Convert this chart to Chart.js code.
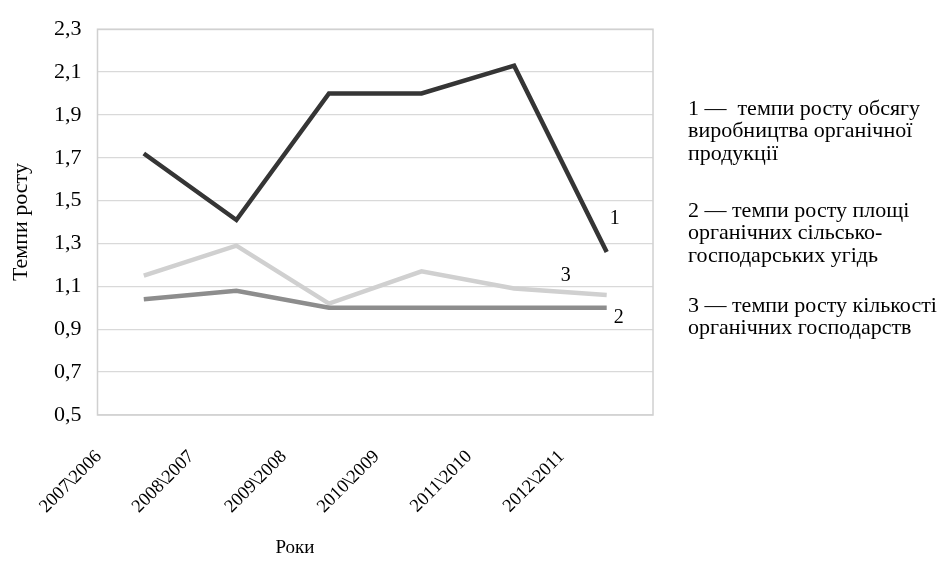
<!DOCTYPE html>
<html>
<head>
<meta charset="utf-8">
<script src="https://cdn.jsdelivr.net/npm/chart.js@4.4.0/dist/chart.umd.min.js"></script>
<style>
  html, body { margin: 0; padding: 0; background: #ffffff; }
  #wrap { width: 946px; height: 564px; }
</style>
</head>
<body>
<div id="wrap"><canvas id="chart" width="946" height="564"></canvas></div>
<script>
// Періоди (ланцюгові темпи росту)
const periods = ['2007\\2006', '2008\\2007', '2009\\2008', '2010\\2009', '2011\\2010', '2012\\2011'];

// 1 — обсяг виробництва органічної продукції
const productionGrowth = [1.72, 1.41, 2.00, 2.00, 2.13, 1.26];
// 2 — площа органічних сільськогосподарських угідь
const areaGrowth = [1.04, 1.08, 1.00, 1.00, 1.00, 1.00];
// 3 — кількість органічних господарств
const farmsGrowth = [1.15, 1.29, 1.02, 1.17, 1.09, 1.06];

const yTicks = [0.5, 0.7, 0.9, 1.1, 1.3, 1.5, 1.7, 1.9, 2.1, 2.3];

const legendGroups = [
  ['1 —  темпи росту обсягу', 'виробництва органічної', 'продукції'],
  ['2 — темпи росту площі', 'органічних сільсько-', 'господарських угідь'],
  ['3 — темпи росту кількості', 'органічних господарств']
];

const serif = '"Liberation Serif", "Times New Roman", serif';

const decorations = {
  id: 'decorations',
  afterDraw(chart) {
    const { ctx, chartArea: a } = chart;
    ctx.save();
    // рамка області побудови
    ctx.strokeStyle = '#d0d0d0';
    ctx.lineWidth = 1.5;
    ctx.strokeRect(a.left, a.top, a.right - a.left, a.bottom - a.top);

    ctx.fillStyle = '#000';
    ctx.textBaseline = 'middle';

    // номери кривих біля ліній
    ctx.font = '20px ' + serif;
    ctx.textAlign = 'center';
    const last = (i) => chart.getDatasetMeta(i).data[periods.length - 1];
    const p1 = last(0), p2 = last(1), p3 = last(2);
    ctx.fillText('1', p1.x + 8, p1.y - 33);
    ctx.fillText('2', p2.x + 12, p2.y + 10);
    ctx.fillText('3', p3.x - 41, p3.y - 19);

    // підпис осі X
    ctx.font = '19px ' + serif;
    ctx.fillText('Роки', 295, 548);

    // пояснення до кривих
    ctx.textAlign = 'left';
    ctx.font = '22px ' + serif;
    const starts = [109, 211, 306];
    legendGroups.forEach((g, gi) => {
      g.forEach((line, li) => ctx.fillText(line, 688, starts[gi] + li * 22.5));
    });
    ctx.restore();
  }
};

new Chart(document.getElementById('chart'), {
  type: 'line',
  data: {
    labels: periods,
    datasets: [
      { label: '1', data: productionGrowth, borderColor: '#353535', borderWidth: 4.5 },
      { label: '2', data: areaGrowth, borderColor: '#8d8d8d', borderWidth: 4.5 },
      { label: '3', data: farmsGrowth, borderColor: '#d0d0d0', borderWidth: 4.5 }
    ]
  },
  options: {
    responsive: false,
    animation: false,
    devicePixelRatio: 1,
    elements: {
      point: { radius: 0, hoverRadius: 0 },
      line: { tension: 0, borderJoinStyle: 'miter', borderCapStyle: 'butt' }
    },
    layout: { padding: { left: 0, top: 19.5, right: 293, bottom: 0 } },
    plugins: { legend: { display: false }, tooltip: { enabled: false } },
    scales: {
      x: {
        offset: true,
        grid: { display: false, drawTicks: false },
        border: { display: false },
        afterFit(s) { s.height = 149; },
        ticks: {
          color: '#000',
          font: { family: serif, size: 18.5 },
          maxRotation: 45,
          minRotation: 45,
          autoSkip: false,
          padding: 31,
          labelOffset: -45
        }
      },
      y: {
        min: 0.5,
        max: 2.3,
        afterBuildTicks(s) { s.ticks = yTicks.map(v => ({ value: v })); },
        afterFit(s) { s.width = 97.5; },
        grid: { color: '#d9d9d9', lineWidth: 1.3, drawTicks: false },
        border: { display: false },
        ticks: {
          color: '#000',
          font: { family: serif, size: 22 },
          padding: 16,
          callback: (v) => Number(v).toFixed(1).replace('.', ',')
        },
        title: {
          display: true,
          text: 'Темпи росту',
          color: '#000',
          font: { family: serif, size: 22 },
          padding: { top: 8, bottom: 0 }
        }
      }
    }
  },
  plugins: [decorations]
});
</script>
</body>
</html>
